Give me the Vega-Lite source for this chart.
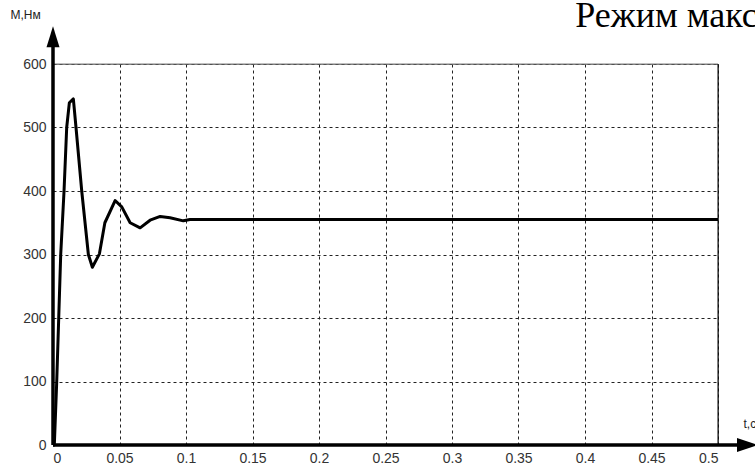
{
  "$schema": "https://vega.github.io/schema/vega-lite/v6.json",
  "width": 665,
  "height": 381,
  "autosize": {"type": "none"},
  "padding": {"left": 53, "top": 64, "right": 37, "bottom": 23},
  "background": "white",
  "config": {
    "view": {"stroke": "#808080", "strokeWidth": 1},
    "axis": {
      "domain": false,
      "ticks": false,
      "grid": true,
      "gridDash": [3, 3],
      "gridColor": "#222222",
      "gridWidth": 1,
      "gridOpacity": 1,
      "labelFont": "Liberation Sans, Arial, sans-serif",
      "labelFontSize": 14,
      "labelColor": "#333333",
      "titleFont": "Liberation Sans, Arial, sans-serif",
      "titleFontSize": 12,
      "titleFontWeight": "normal",
      "titleColor": "#222222"
    }
  },
  "data": {
    "values": [
      {"t": 0, "M": 0},
      {"t": 0.001, "M": 0},
      {"t": 0.0028, "M": 100},
      {"t": 0.0043, "M": 200},
      {"t": 0.0058, "M": 300},
      {"t": 0.0083, "M": 400},
      {"t": 0.0103, "M": 500},
      {"t": 0.0123, "M": 539},
      {"t": 0.0153, "M": 545},
      {"t": 0.0173, "M": 500},
      {"t": 0.0216, "M": 400},
      {"t": 0.0266, "M": 300},
      {"t": 0.0296, "M": 280},
      {"t": 0.0349, "M": 301},
      {"t": 0.039, "M": 350},
      {"t": 0.0467, "M": 385},
      {"t": 0.0517, "M": 375},
      {"t": 0.058, "M": 350},
      {"t": 0.0655, "M": 342},
      {"t": 0.073, "M": 354},
      {"t": 0.0806, "M": 360},
      {"t": 0.088, "M": 358},
      {"t": 0.098, "M": 353},
      {"t": 0.103, "M": 355},
      {"t": 0.2, "M": 355},
      {"t": 0.3, "M": 355},
      {"t": 0.4, "M": 355},
      {"t": 0.5, "M": 355}
    ]
  },
  "layer": [
    {
      "mark": {"type": "line", "color": "black", "strokeWidth": 3, "strokeJoin": "round"},
      "encoding": {
        "x": {
          "field": "t",
          "type": "quantitative",
          "scale": {"domain": [0, 0.5], "nice": false, "zero": false},
          "axis": {
            "values": [0, 0.05, 0.1, 0.15, 0.2, 0.25, 0.3, 0.35, 0.4, 0.45, 0.5],
            "format": "~g",
            "labelPadding": 6,
            "title": "t,с",
            "titleAngle": 0,
            "titleX": 690,
            "titleY": -22,
            "titleAlign": "left",
            "titleBaseline": "middle"
          }
        },
        "y": {
          "field": "M",
          "type": "quantitative",
          "scale": {"domain": [0, 600], "nice": false},
          "axis": {
            "values": [0, 100, 200, 300, 400, 500, 600],
            "format": "d",
            "labelPadding": 7,
            "title": "М,Нм",
            "titleAngle": 0,
            "titleX": -43,
            "titleY": -50,
            "titleAlign": "left",
            "titleBaseline": "middle"
          }
        }
      }
    },
    {
      "data": {"values": [{"label": "Режим макс"}]},
      "mark": {"type": "text", "align": "left", "baseline": "alphabetic", "font": "Liberation Serif, Times New Roman, serif", "fontSize": 36, "color": "black"},
      "encoding": {
        "x": {"datum": 0.3927, "type": "quantitative"},
        "y": {"datum": 658, "type": "quantitative"},
        "text": {"field": "label"}
      }
    },
    {
      "data": {"values": [{}]},
      "mark": {"type": "rule", "color": "#808080", "strokeWidth": 1},
      "encoding": {"y": {"datum": 600, "type": "quantitative"}}
    },
    {
      "data": {"values": [{}]},
      "mark": {"type": "rule", "color": "black", "strokeWidth": 1},
      "encoding": {"x": {"datum": 0.5, "type": "quantitative"}}
    },
    {
      "data": {"values": [{}]},
      "mark": {"type": "rule", "color": "black", "strokeWidth": 3.5},
      "encoding": {
        "x": {"datum": 0, "type": "quantitative"},
        "y": {"datum": 0, "type": "quantitative"},
        "y2": {"datum": 630}
      }
    },
    {
      "data": {"values": [{}]},
      "mark": {"type": "rule", "color": "black", "strokeWidth": 3.5},
      "encoding": {
        "x": {"datum": 0, "type": "quantitative"},
        "x2": {"datum": 0.515},
        "y": {"datum": 0, "type": "quantitative"}
      }
    },
    {
      "data": {"values": [{}]},
      "mark": {"type": "point", "filled": true, "color": "black", "opacity": 1, "size": 441, "shape": "M-0.62,1L0.62,1L0,-1Z"},
      "encoding": {
        "x": {"datum": 0, "type": "quantitative"},
        "y": {"datum": 643, "type": "quantitative"}
      }
    },
    {
      "data": {"values": [{}]},
      "mark": {"type": "point", "filled": true, "color": "black", "opacity": 1, "size": 441, "shape": "M-1,-0.67L1,0L-1,0.67Z"},
      "encoding": {
        "x": {"datum": 0.5222, "type": "quantitative"},
        "y": {"datum": 0, "type": "quantitative"}
      }
    }
  ]
}
